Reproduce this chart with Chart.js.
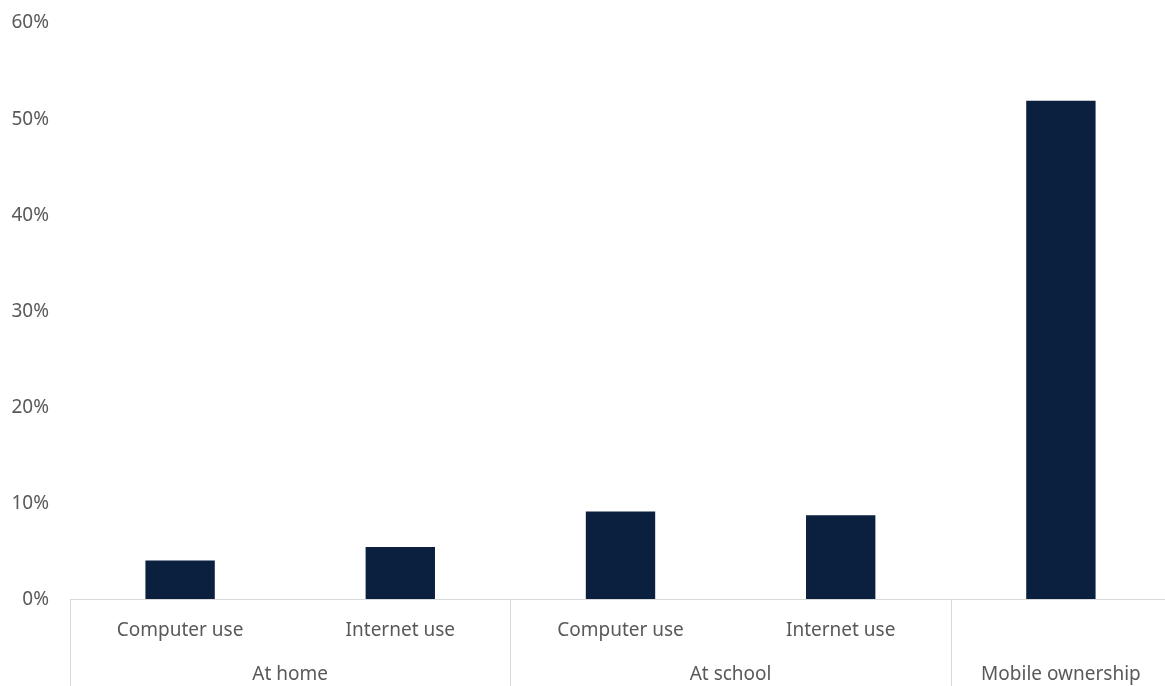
<!DOCTYPE html>
<html>
<head>
<meta charset="utf-8">
<title>Computer, internet use and mobile ownership</title>
<script src="https://cdn.jsdelivr.net/npm/chart.js@4.4.1/dist/chart.umd.min.js"></script>
<style>
    html, body { margin: 0; padding: 0; background: #ffffff; overflow: hidden; }
    #wrap { position: relative; width: 1171px; height: 686px; }
</style>
</head>
<body>
<div id="wrap"><canvas id="usageChart"></canvas></div>
<script>
// --- Data ---
const groups = ['At home', 'At home', 'At school', 'At school', 'Mobile ownership'];
const subLabels = ['Computer use', 'Internet use', 'Computer use', 'Internet use', ''];
const shares = [4.0, 5.4, 9.1, 8.7, 51.8];
const yTicks = [0, 10, 20, 30, 40, 50, 60];

const textColor = '#595959';
const lineColor = '#d9d9d9';
const barColor = '#0b1f3f';
const fontFamily = '"Noto Sans", "Open Sans", sans-serif';
const fontSize = 19;

// --- Axis labels: y ticks, two-level category axis and separators ---
const axisLabels = {
    id: 'axisLabels',
    afterDraw(chart) {
        const ctx = chart.ctx;
        const x = chart.scales.x;
        const y = chart.scales.y;
        const area = chart.chartArea;
        const half = (x.getPixelForValue(1) - x.getPixelForValue(0)) / 2;

        ctx.save();
        ctx.fillStyle = textColor;
        ctx.font = fontSize + 'px ' + fontFamily;
        ctx.textBaseline = 'middle';

        // y tick labels
        ctx.textAlign = 'right';
        yTicks.forEach(v => ctx.fillText(v + '%', area.left - 21, y.getPixelForValue(v) + 1));

        // category labels
        ctx.textAlign = 'center';
        subLabels.forEach((lbl, i) => {
            if (lbl) ctx.fillText(lbl, x.getPixelForValue(i), area.bottom + 32);
        });

        ctx.strokeStyle = lineColor;
        ctx.lineWidth = 1;
        let start = 0;
        for (let i = 1; i <= groups.length; i++) {
            if (i === groups.length || groups[i] !== groups[start]) {
                const left = x.getPixelForValue(start) - half;
                const right = x.getPixelForValue(i - 1) + half;
                ctx.beginPath();
                ctx.moveTo(Math.round(left) + 0.5, area.bottom);
                ctx.lineTo(Math.round(left) + 0.5, chart.height);
                ctx.stroke();
                ctx.fillText(groups[start], (left + right) / 2, area.bottom + 76);
                start = i;
            }
        }
        ctx.restore();
    }
};

const ctx = document.getElementById('usageChart').getContext('2d');
new Chart(ctx, {
    type: 'bar',
    data: {
        labels: subLabels,
        datasets: [{
            data: shares,
            backgroundColor: barColor,
            borderWidth: 0,
            barPercentage: 0.315,
            categoryPercentage: 1
        }]
    },
    options: {
        responsive: true,
        maintainAspectRatio: false,
        animation: false,
        layout: { padding: { top: 22, right: 0, left: 0, bottom: 0 } },
        plugins: {
            legend: { display: false },
            tooltip: { enabled: false }
        },
        scales: {
            y: {
                min: 0,
                max: 60,
                afterBuildTicks: s => { s.ticks = yTicks.map(v => ({ value: v })); },
                afterFit: s => { s.width = 70; },
                grid: { display: false },
                border: { display: false },
                ticks: { display: false }
            },
            x: {
                afterFit: s => { s.height = 87; },
                grid: { display: false },
                border: { display: true, color: lineColor, width: 1 },
                ticks: { display: false }
            }
        }
    },
    plugins: [axisLabels]
});
</script>
</body>
</html>
